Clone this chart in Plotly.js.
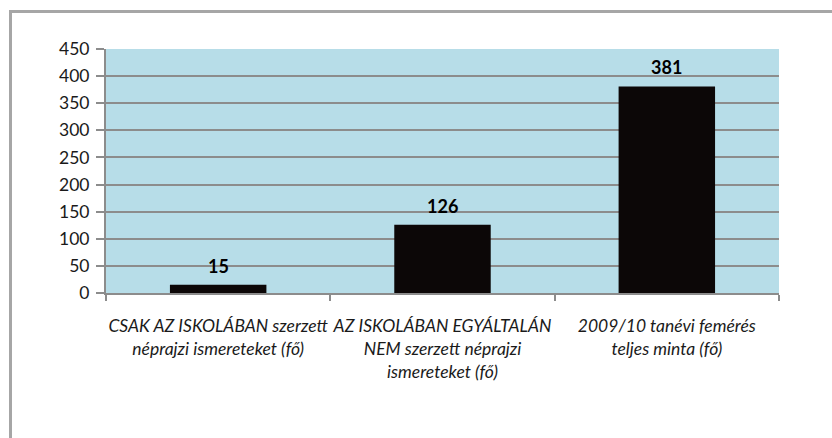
<!DOCTYPE html>
<html>
<head>
<meta charset="utf-8">
<script src="https://cdn.plot.ly/plotly-3.0.1.min.js"></script>
<style>
  html, body { margin: 0; padding: 0; background: #ffffff; }
  #wrap { position: relative; width: 832px; height: 438px; overflow: hidden; }
  #chart { width: 832px; height: 438px; }
  #frame { position: absolute; left: 9px; top: 10px; width: 900px; height: 500px;
           border-left: 3px solid #a6a6a6; border-top: 3px solid #a6a6a6; pointer-events: none; }
</style>
</head>
<body>
<div id="wrap">
  <div id="chart"></div>
  <div id="frame"></div>
</div>
<script>
const categories = [
  "CSAK AZ ISKOLÁBAN szerzett<br>néprajzi ismereteket (fő)",
  "AZ ISKOLÁBAN EGYÁLTALÁN<br>NEM szerzett néprajzi<br>ismereteket (fő)",
  "2009/10 tanévi femérés<br>teljes minta (fő)"
];
const values = [15, 126, 381];
const yTicks = [0, 50, 100, 150, 200, 250, 300, 350, 400, 450];

const FONT = 'Lato, Liberation Sans, Arial, sans-serif';

const trace = {
  type: 'bar',
  x: categories,
  y: values,
  marker: { color: '#0c0707', line: { width: 0 } },
  hoverinfo: 'none'
};

const valueLabels = categories.map((c, i) => ({
  x: c, y: values[i], xref: 'x', yref: 'y',
  text: String(values[i]),
  showarrow: false, yanchor: 'bottom', yshift: 6,
  font: { family: FONT, size: 18, color: '#000000', weight: 'bold' }
}));

const layout = {
  width: 832, height: 438,
  margin: { l: 106, r: 53, t: 49, b: 145 },
  paper_bgcolor: '#ffffff',
  plot_bgcolor: '#b7dde8',
  bargap: 0.57,
  showlegend: false,
  annotations: valueLabels,
  xaxis: {
    type: 'category',
    showline: true, linecolor: '#8c8c8c', linewidth: 2,
    ticks: 'outside', tickson: 'boundaries', ticklen: 6, tickcolor: '#8c8c8c', tickwidth: 2,
    showgrid: false,
    tickangle: 0,
    ticklabelstandoff: 16,
    tickfont: { family: FONT, size: 17.5, color: '#1a1a1a', style: 'italic' }
  },
  yaxis: {
    range: [0, 450],
    tickvals: yTicks,
    ticktext: yTicks.map(String),
    showline: true, linecolor: '#8c8c8c', linewidth: 2,
    ticks: 'outside', ticklen: 8, tickcolor: '#8c8c8c', tickwidth: 2,
    showgrid: true, gridcolor: '#8c8c8c', gridwidth: 2,
    zeroline: false,
    ticklabelstandoff: 3,
    tickfont: { family: FONT, size: 17.5, color: '#1a1a1a' }
  }
};

Plotly.newPlot('chart', [trace], layout, { displayModeBar: false, staticPlot: true });
</script>
</body>
</html>
